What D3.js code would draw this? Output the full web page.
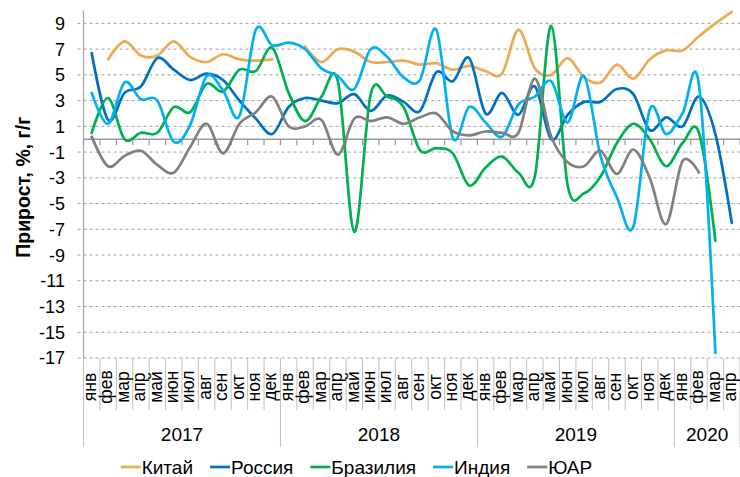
<!DOCTYPE html>
<html><head><meta charset="utf-8">
<script src="https://cdn.jsdelivr.net/npm/d3@7"></script>
<style>
body{margin:0;background:#fff}
svg{display:block}
text{font-family:"Liberation Sans",Arial,sans-serif;fill:#000}
</style>
</head><body>
<svg id="c" width="740" height="477"></svg>
<script>
// ---- data ----
const months = ["янв","фев","мар","апр","май","июн","июл","авг","сен","окт","ноя","дек"];
const years = ["2017","2018","2019","2020"];
const monthsPerYear = [12,12,12,4];
const yTicks = [-17,-15,-13,-11,-9,-7,-5,-3,-1,1,3,5,7,9];
const seriesNames = ["Китай","Россия","Бразилия","Индия","ЮАР"];
const seriesColors = ["#EFA954","#0070C0","#00B050","#00B0F0","#808080"];

const china = [null,6.2,7.6,6.5,6.5,7.6,6.4,6.0,6.6,6.2,6.1,6.2,
               null,7.2,6.0,7.0,6.8,6.0,6.0,6.1,5.8,5.9,5.4,5.7,
               5.3,5.1,8.5,5.5,5.0,6.3,4.8,4.4,5.8,4.7,6.2,6.9,
               6.9,8.0,9.0,9.9];
const russia = [6.7,1.5,3.6,4.1,6.3,5.4,4.6,5.1,4.6,3.0,1.6,0.4,
                2.5,3.2,3.0,2.8,3.5,2.2,3.4,2.9,2.2,5.2,4.5,6.3,
                2.0,3.6,1.9,4.1,0.0,1.9,2.9,2.9,3.9,3.5,0.7,1.7,
                1.0,3.3,0.4,-6.5];
const brazil = [0.5,3.2,0.0,0.5,0.5,2.5,2.1,4.3,3.7,5.4,5.3,7.1,
                3.6,1.4,3.3,4.5,-7.2,3.5,3.3,2.5,-0.85,-0.7,-1.1,-3.6,
                -2.2,-1.35,-2.6,-2.9,8.8,-3.6,-4.2,-2.9,-0.3,1.2,0.0,-2.1,
                -0.3,0.5,-7.9,null];
const india = [3.6,1.2,4.4,3.1,3.0,-0.2,1.1,4.9,3.8,1.8,8.5,7.3,
               7.5,7.0,5.5,4.9,3.9,7.0,6.4,4.8,4.6,8.5,0.1,2.5,
               1.3,0.2,2.7,3.3,4.5,1.3,4.9,-1.3,-4.5,-6.8,2.3,0.4,
               2.0,4.2,-16.6,null];
const sar = [0.2,-2.1,-1.3,-0.9,-2.0,-2.6,-0.6,1.2,-1.1,1.2,2.1,3.3,
             1.0,1.0,1.5,-1.2,1.6,1.4,1.7,1.2,1.7,2.0,0.6,0.3,
             0.6,0.5,0.5,4.7,0.2,-1.8,-2.1,-0.9,-2.7,-0.8,-3.0,-6.6,
             -1.7,-2.6,null,null];
const seriesValues = [china, russia, brazil, india, sar];

(function(){
// ---- build categories ----
const categories = [];
years.forEach((yr,yi)=>{ for(let m=0;m<monthsPerYear[yi];m++) categories.push({year:yr, month:months[m]}); });
const idx = categories.map((d,i)=>i);

const svg = d3.select("#c");
const pL = 83.5, pR = 740, pT = 10.5, pB = 358;

const x = d3.scaleBand().domain(idx).range([pL, pR]).paddingInner(0).paddingOuter(0);
const bw = x.bandwidth();
const cx = i => x(i) + bw/2;
const y = d3.scaleLinear().domain([-17, 10]).range([pB, pT]);

// gridlines
svg.append("g").selectAll("line").data(yTicks).join("line")
  .attr("x1", pL-6).attr("x2", pR)
  .attr("y1", d=>y(d)).attr("y2", d=>y(d))
  .attr("stroke", "#a0a0a0").attr("stroke-width", 1)
  .attr("stroke-dasharray", "3,3");

// y axis line
svg.append("line").attr("x1", pL).attr("x2", pL).attr("y1", pT).attr("y2", pB)
  .attr("stroke", "#a6a6a6").attr("stroke-width", 1.2);

// y tick labels
svg.append("g").selectAll("text").data(yTicks).join("text")
  .attr("x", 65).attr("y", d=>y(d)).attr("dy", "0.36em")
  .attr("text-anchor", "end").style("font-size", "18px")
  .text(d=>d);

// zero axis line with ticks
const boundaries = idx.map(i=>x(i)).concat([pR]);
svg.append("line").attr("x1", pL).attr("x2", pR).attr("y1", y(0)).attr("y2", y(0))
  .attr("stroke", "#999").attr("stroke-width", 1.5);
svg.append("g").selectAll("line").data(boundaries).join("line")
  .attr("x1", d=>d).attr("x2", d=>d).attr("y1", y(0)).attr("y2", y(0)+6)
  .attr("stroke", "#999").attr("stroke-width", 1.2);

// category separators
const yearStarts = [0];
monthsPerYear.forEach((n,i)=>yearStarts.push(yearStarts[i]+n));
svg.append("g").selectAll("line").data(boundaries).join("line")
  .attr("x1", d=>d).attr("x2", d=>d).attr("y1", pB)
  .attr("y2", (d,i)=> yearStarts.includes(i) ? 447 : 410)
  .attr("stroke", "#c0c0c0").attr("stroke-width", 1);

// month labels
svg.append("g").selectAll("text").data(categories).join("text")
  .attr("transform", (d,i)=>`translate(${cx(i)},387) rotate(-90)`)
  .attr("text-anchor", "middle").attr("dy", "0.24em")
  .style("font-size", "17.5px")
  .text(d=>d.month);

// year labels
svg.append("g").selectAll("text").data(years).join("text")
  .attr("x", (d,i)=> (x(yearStarts[i]) + (yearStarts[i+1] < idx.length ? x(yearStarts[i+1]) : pR))/2)
  .attr("y", 441).attr("text-anchor", "middle").style("font-size", "19px")
  .text(d=>d);

// y axis title
svg.append("text").attr("transform", `translate(23,${(pT+pB)/2+3}) rotate(-90)`)
  .attr("text-anchor", "middle").attr("dy", "0.35em")
  .style("font-size", "19.5px").style("font-weight", "bold")
  .text("Прирост, %, г/г");

// series lines
const line = d3.line().defined(d=>d.v!=null).x(d=>cx(d.i)).y(d=>y(d.v))
  .curve(d3.curveCardinal.tension(0));
seriesValues.forEach((vals,si)=>{
  svg.append("path").datum(vals.map((v,i)=>({i,v})))
    .attr("d", line).attr("fill", "none")
    .attr("stroke", seriesColors[si]).attr("stroke-width", 2.7)
    .attr("stroke-linejoin", "round").attr("stroke-linecap", "round");
});

// legend
const lg = svg.append("g");
let lx = 120.7; const ly = 467;
seriesNames.forEach((n,si)=>{
  lg.append("line").attr("x1", lx).attr("x2", lx+20).attr("y1", ly).attr("y2", ly)
    .attr("stroke", seriesColors[si]).attr("stroke-width", 2.7);
  const t = lg.append("text").attr("x", lx+21).attr("y", ly).attr("dy", "0.36em")
    .style("font-size", "19px").text(n);
  lx += 21 + t.node().getComputedTextLength() + 17;
});
})();
</script>
</body></html>
